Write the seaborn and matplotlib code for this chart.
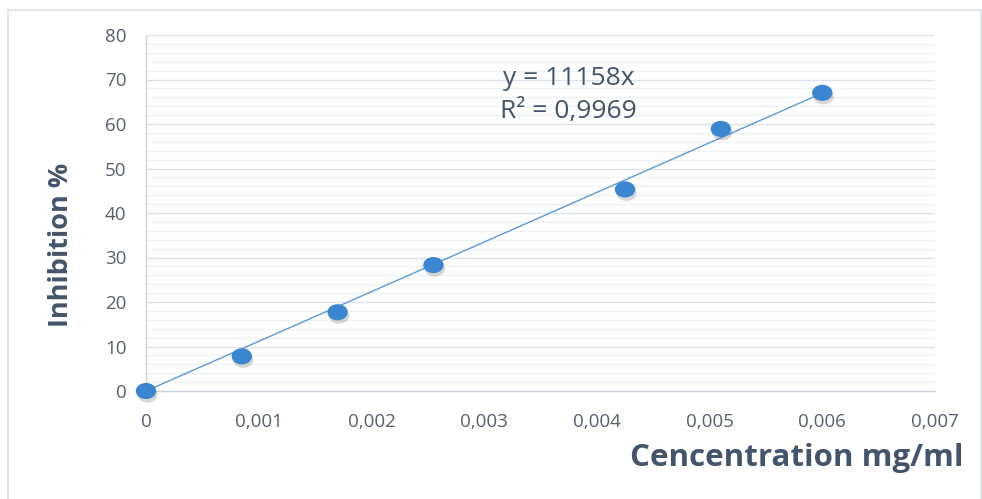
import matplotlib
matplotlib.use("Agg")
import matplotlib.pyplot as plt
import matplotlib.patheffects as pe
from matplotlib.ticker import MultipleLocator, FuncFormatter
from matplotlib.lines import Line2D
from matplotlib.path import Path
from matplotlib.transforms import Affine2D
import seaborn as sns
import pandas as pd

# Measured concentrations and inhibition values
concentration = [0.0, 0.00085, 0.0017, 0.00255, 0.00425, 0.0051, 0.006]
inhibition = [0.0, 7.8, 17.7, 28.3, 45.3, 58.9, 67.0]
slope = 11158
r_squared = "0,9969"

sns.set_theme(style="white")
plt.rcParams["font.family"] = ["Open Sans", "DejaVu Sans"]

df = pd.DataFrame({"conc": concentration, "inhib": inhibition})
fit = pd.DataFrame({"conc": [0.0, max(concentration)],
                    "inhib": [0.0, slope * max(concentration)]})

# Slightly flattened round marker
oval = Path.unit_circle().transformed(Affine2D().scale(1.2, 0.95))

fig = plt.figure(figsize=(9.82, 4.99), dpi=100)
ax = fig.add_axes([146 / 982, 1 - 391 / 499, (935 - 146) / 982, (391 - 35) / 499])

ax.set_xlim(0, 0.007)
ax.set_ylim(0, 80)

# Gridlines: major every 10, minor every 2
ax.yaxis.set_major_locator(MultipleLocator(10))
ax.yaxis.set_minor_locator(MultipleLocator(2))
ax.xaxis.set_major_locator(MultipleLocator(0.001))
ax.grid(axis="y", which="major", color="#dde2ea", linewidth=1.0)
ax.grid(axis="y", which="minor", color="#eef0f4", linewidth=0.9)
ax.grid(axis="x", visible=False)
ax.set_axisbelow(True)

# Linear trendline through the origin
sns.lineplot(data=fit, x="conc", y="inhib", ax=ax, color="#5b9bd5",
             linewidth=1.0, zorder=3)

# Data points with a soft drop shadow
sns.scatterplot(data=df, x="conc", y="inhib", ax=ax, s=215, color="#3a86d0",
                edgecolor="none", marker=oval, zorder=4, clip_on=False,
                path_effects=[pe.SimplePatchShadow(offset=(1.0, -2.5),
                                                   shadow_rgbFace="#707070",
                                                   alpha=0.28),
                              pe.Normal()])

for s in ["top", "right"]:
    ax.spines[s].set_visible(False)
for s in ["left", "bottom"]:
    ax.spines[s].set_color("#cdd3dd")
    ax.spines[s].set_linewidth(1.0)

ax.tick_params(axis="both", which="major", direction="out", length=6,
               width=1.0, color="#cdd3dd", labelcolor="#58606e",
               labelsize=13.5)
ax.tick_params(axis="y", which="minor", length=0)
ax.tick_params(axis="y", pad=8)
ax.tick_params(axis="x", pad=10)

ax.xaxis.set_major_formatter(FuncFormatter(
    lambda v, p: "0" if abs(v) < 1e-12 else f"{v:.3f}".replace(".", ",")))
ax.yaxis.set_major_formatter(FuncFormatter(lambda v, p: f"{v:.0f}"))

ax.set_xlabel("")
ax.set_ylabel("")
fig.text(964 / 982, 1 - 458 / 499, "Cencentration mg/ml", ha="right",
         va="center", fontsize=22.5, fontweight="bold", color="#44546a")
fig.text(61 / 982, 1 - 245 / 499, "Inhibition %", ha="center", va="center",
         rotation=90, fontsize=19.5, fontweight="bold", color="#44546a")

ax.text(0.00375, 70.2, f"y = {slope}x", ha="center", va="center",
        fontsize=19, color="#44546a")
ax.text(0.00375, 62.8, f"R² = {r_squared}", ha="center", va="center",
        fontsize=19, color="#44546a")

# Chart area border
frame_color = "#dadfe7"
x0, y0, x1 = 8 / 982, 1 - 10 / 499, 981 / 982
fig.add_artist(Line2D([x0, x0], [0, y0], transform=fig.transFigure,
                      color=frame_color, linewidth=1.2))
fig.add_artist(Line2D([x0, x1], [y0, y0], transform=fig.transFigure,
                      color=frame_color, linewidth=1.2))
fig.add_artist(Line2D([x1, x1], [0, y0], transform=fig.transFigure,
                      color=frame_color, linewidth=1.2))

fig.savefig("out.png", dpi=100)
